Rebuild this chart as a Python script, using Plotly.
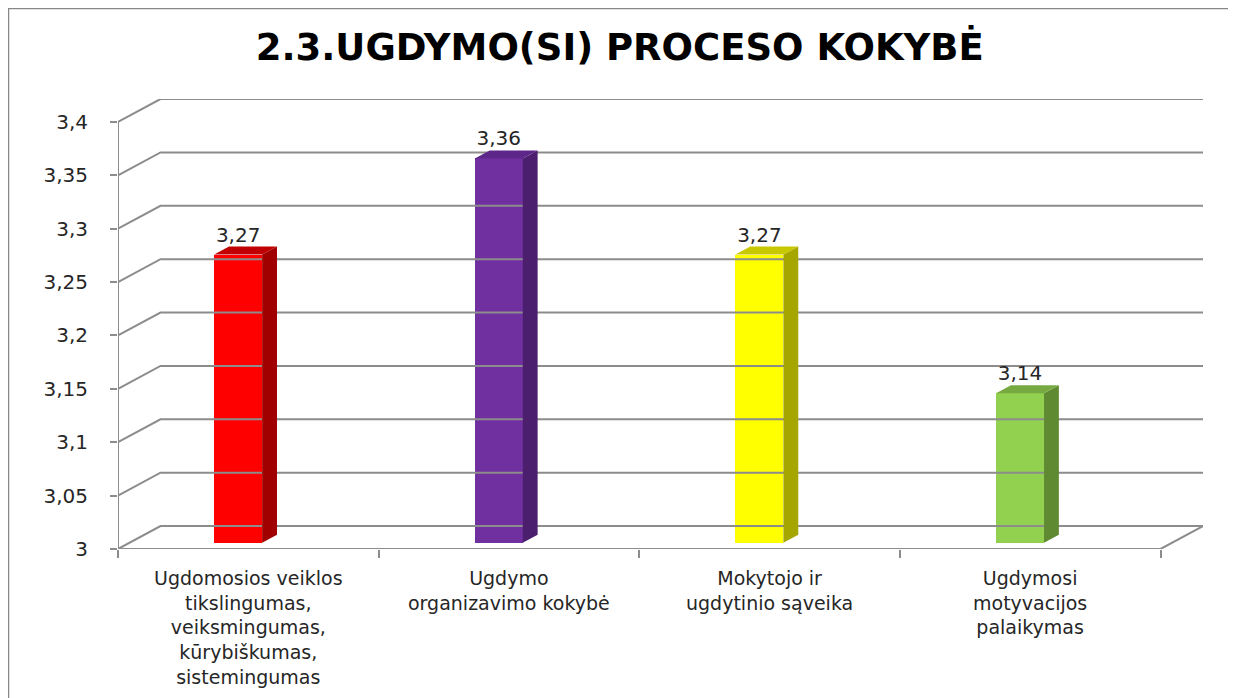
import plotly.graph_objects as go

categories = [
    "Ugdomosios veiklos<br>tikslingumas,<br>veiksmingumas,<br>kūrybiškumas,<br>sistemingumas",
    "Ugdymo<br>organizavimo kokybė",
    "Mokytojo ir<br>ugdytinio sąveika",
    "Ugdymosi<br>motyvacijos<br>palaikymas",
]
values = [3.27, 3.36, 3.27, 3.14]
front_colors = ["#FF0000", "#7030A0", "#FFFF00", "#92D050"]
side_colors = ["#A00000", "#4B1F6E", "#A6A600", "#5F8A32"]
top_colors = ["#C00000", "#5C2789", "#C8C800", "#76AA40"]
tick_values = [3, 3.05, 3.1, 3.15, 3.2, 3.25, 3.3, 3.35, 3.4]
tick_labels = ["3", "3,05", "3,1", "3,15", "3,2", "3,25", "3,3", "3,35", "3,4"]

Y_MIN = 3
DX = 0.163      # back wall offset (category units)
DY = 0.0215     # back wall offset (value units)
BAR_W = 0.184
BAR_SHIFT = -0.039
BAR_Z = 0.27    # depth of bar front face
BAR_D = 0.35    # bar depth
GRID = "#8C8C8C"
TEXT = "#262626"
FONT = "DejaVu Sans"

n = len(categories)
fig = go.Figure()

# back wall gridlines with the perspective diagonals
gx, gy = [], []
for t in tick_values:
    gx += [0, DX, n + DX, None]
    gy += [t, t + DY, t + DY, None]
fig.add_trace(go.Scatter(x=gx, y=gy, mode="lines", line=dict(color=GRID, width=2),
                         hoverinfo="skip", showlegend=False))

# front axis lines
fig.add_trace(go.Scatter(x=[0, 0, None, 0, n, n + DX],
                         y=[tick_values[0], tick_values[-1], None, Y_MIN, Y_MIN, Y_MIN + DY],
                         mode="lines", line=dict(color=GRID, width=2),
                         hoverinfo="skip", showlegend=False))

centers = [i + 0.5 + BAR_SHIFT for i in range(n)]
base = Y_MIN + BAR_Z * DY

fig.add_trace(go.Bar(x=centers, y=[v - Y_MIN for v in values], base=base, width=BAR_W,
                     marker=dict(color=front_colors, line=dict(width=0)),
                     hoverinfo="skip", showlegend=False))

for cx, v, sc, tc in zip(centers, values, side_colors, top_colors):
    xl, xr = cx - BAR_W / 2, cx + BAR_W / 2
    top = v + BAR_Z * DY
    ddx, ddy = BAR_D * DX, BAR_D * DY
    fig.add_trace(go.Scatter(x=[xr, xr + ddx, xr + ddx, xr, xr],
                             y=[base, base + ddy, top + ddy, top, base],
                             fill="toself", fillcolor=sc, mode="lines", line=dict(width=0),
                             hoverinfo="skip", showlegend=False))
    fig.add_trace(go.Scatter(x=[xl, xr, xr + ddx, xl + ddx, xl],
                             y=[top, top, top + ddy, top + ddy, top],
                             fill="toself", fillcolor=tc, mode="lines", line=dict(width=0),
                             hoverinfo="skip", showlegend=False))

# data labels
fig.add_trace(go.Scatter(x=centers, y=[v + (BAR_Z + BAR_D) * DY for v in values],
                         mode="text", text=[f"{v:.2f}".replace(".", ",") for v in values],
                         textposition="top center", textfont=dict(family=FONT, size=20, color=TEXT),
                         hoverinfo="skip", showlegend=False, cliponaxis=False))

for i, c in enumerate(categories):
    fig.add_annotation(x=i + 0.5, y=Y_MIN, xref="x", yref="y", text=c, showarrow=False,
                       yanchor="top", yshift=-16, align="center",
                       font=dict(family=FONT, size=19, color=TEXT))

# chart border
fig.add_shape(type="rect", xref="paper", yref="paper", x0=-0.1014, x1=1.0258, y0=-0.4, y1=1.2022,
              line=dict(color="#878787", width=2.5), fillcolor="rgba(0,0,0,0)", layer="below")

fig.update_layout(
    width=1236, height=698, autosize=False,
    margin=dict(l=110, r=41, t=91, b=157),
    paper_bgcolor="white", plot_bgcolor="white",
    title=dict(text="<b>2.3.UGDYMO(SI) PROCESO KOKYBĖ</b>", x=0.495, xanchor="center",
               y=0.944, yanchor="middle", yref="container",
               font=dict(family=FONT, size=37, color="#000000")),
    xaxis=dict(range=[0, n + DX], showgrid=False, zeroline=False, showline=False,
               tickvals=list(range(n + 1)), ticktext=[""] * (n + 1),
               ticks="outside", ticklen=8, tickwidth=2, tickcolor=GRID, fixedrange=True),
    yaxis=dict(range=[Y_MIN, tick_values[-1] + DY], showgrid=False, zeroline=False, showline=False,
               tickvals=tick_values, ticktext=tick_labels,
               ticks="outside", ticklen=7, tickwidth=2, tickcolor=GRID,
               ticklabelstandoff=18,
               tickfont=dict(family=FONT, size=20, color=TEXT), fixedrange=True),
    bargap=0,
)

fig.write_html("out.html")
